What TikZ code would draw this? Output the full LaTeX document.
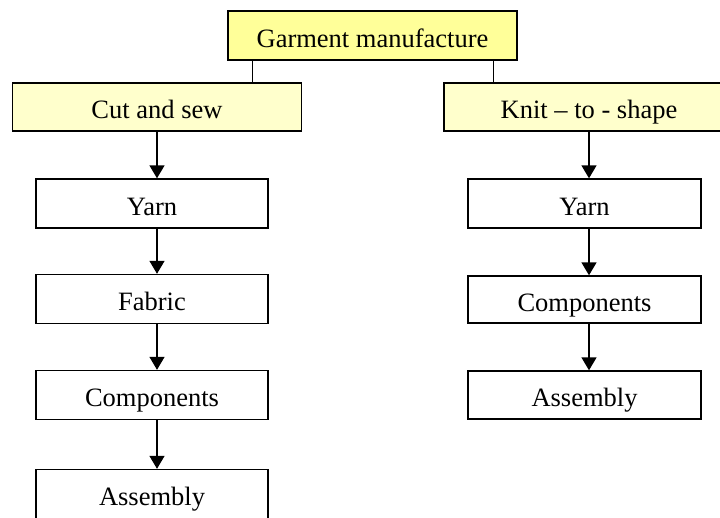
\documentclass[tikz,border=0pt]{standalone}
\usepackage{fontspec}
\setmainfont{Liberation Serif}
\usetikzlibrary{arrows.meta}
\definecolor{topyellow}{HTML}{FFFF99}
\definecolor{paleyellow}{HTML}{FFFFCC}
\tikzset{
  box/.style={draw, line width=1.4pt, inner sep=0pt, text height=23pt, text depth=0pt,
    font=\fontsize{26.5}{30}\selectfont},
  headbox/.style={box, minimum width=289pt, minimum height=48pt},
  stepbox/.style={box, fill=white, minimum width=232pt, minimum height=49pt},
  flow/.style={line width=1.5pt, -{Triangle[length=13pt,width=15pt]}}
}
\begin{document}
\begin{tikzpicture}[x=1pt,y=-1pt]
  \useasboundingbox (0,0) rectangle (720,517);
  \node[headbox, fill=topyellow, minimum height=49pt] (garment) at (372.5,35.5) {Garment manufacture};
  \node[headbox, fill=paleyellow] (cutsew) at (157,107) {Cut and sew};
  \node[headbox, fill=paleyellow, minimum width=290pt] (knit) at (589,107) {Knit -- to - shape};
  % branches from the top box
  \draw[line width=1.5pt] ([xshift=25pt]garment.south west) -- ([xshift=25pt]garment.south west |- cutsew.north);
  \draw[line width=1.5pt] ([xshift=-24pt]garment.south east) -- ([xshift=-24pt]garment.south east |- knit.north);
  % cut and sew
  \node[stepbox] (yarnL) at (152,203.5) {Yarn};
  \node[stepbox] (fabricL) at (152,299) {Fabric};
  \node[stepbox] (compL) at (152,395) {Components};
  \node[stepbox] (assemL) at (152,494) {Assembly};
  \draw[flow] (cutsew.south) -- (cutsew.south |- yarnL.north);
  \draw[flow] (yarnL.south -| cutsew.south) -- (cutsew.south |- fabricL.north);
  \draw[flow] (fabricL.south -| cutsew.south) -- (cutsew.south |- compL.north);
  \draw[flow] (compL.south -| cutsew.south) -- (cutsew.south |- assemL.north);
  % knit to shape
  \node[stepbox, minimum width=233pt] (yarnR) at (584.5,203.5) {Yarn};
  \node[stepbox, minimum width=233pt, minimum height=47pt] (compR) at (584.5,299.5) {Components};
  \node[stepbox, minimum width=233pt, minimum height=48pt] (assemR) at (584.5,395) {Assembly};
  \draw[flow] (knit.south) -- (knit.south |- yarnR.north);
  \draw[flow] (yarnR.south -| knit.south) -- (knit.south |- compR.north);
  \draw[flow] (compR.south -| knit.south) -- (knit.south |- assemR.north);
\end{tikzpicture}
\end{document}
